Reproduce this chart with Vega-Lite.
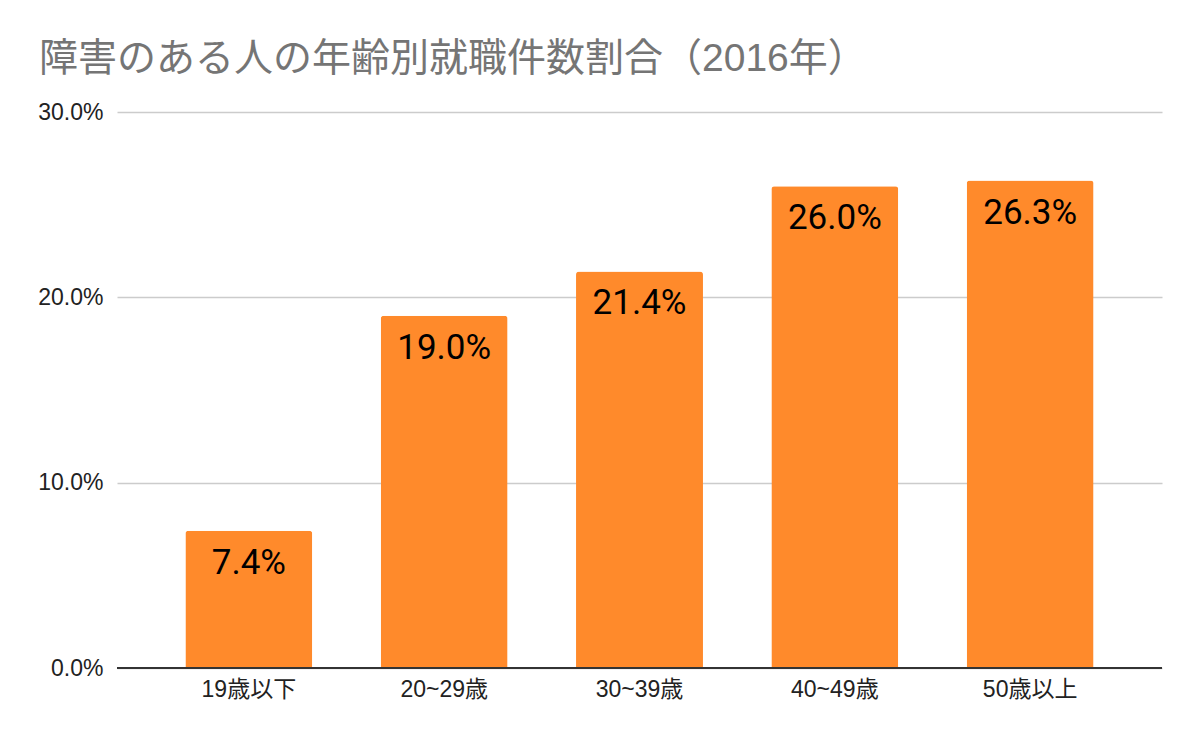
{
  "$schema": "https://vega.github.io/schema/vega-lite/v6.json",
  "width": 1045,
  "height": 556,
  "autosize": {"type": "none"},
  "padding": {"left": 117, "top": 112, "right": 38, "bottom": 74},
  "background": "white",
  "title": {
    "text": "障害のある人の年齢別就職件数割合（2016年）",
    "anchor": "start",
    "frame": "group",
    "font": "Liberation Sans, Noto Sans CJK JP",
    "fontSize": 39,
    "fontWeight": "normal",
    "color": "#757575",
    "baseline": "alphabetic",
    "offset": -9,
    "dx": -78
  },
  "config": {
    "view": {"stroke": null},
    "font": "Liberation Sans, Noto Sans CJK JP"
  },
  "data": {
    "values": [
      {"age": "19歳以下", "share": 0.074, "label": "7.4%"},
      {"age": "20~29歳", "share": 0.190, "label": "19.0%"},
      {"age": "30~39歳", "share": 0.214, "label": "21.4%"},
      {"age": "40~49歳", "share": 0.260, "label": "26.0%"},
      {"age": "50歳以上", "share": 0.263, "label": "26.3%"}
    ]
  },
  "encoding": {
    "x": {
      "field": "age",
      "type": "nominal",
      "sort": null,
      "scale": {"paddingInner": 0.35, "paddingOuter": 0.35},
      "axis": {
        "title": null,
        "labelAngle": 0,
        "labelFontSize": 23,
        "labelColor": "#222222",
        "labelPadding": 10,
        "ticks": false,
        "domain": false,
        "grid": false
      }
    },
    "y": {
      "field": "share",
      "type": "quantitative",
      "scale": {"domain": [0, 0.3], "nice": false},
      "axis": {
        "title": null,
        "values": [0, 0.1, 0.2, 0.3],
        "format": ".1%",
        "labelFontSize": 23,
        "labelColor": "#222222",
        "labelPadding": 14,
        "ticks": false,
        "domain": false,
        "grid": true,
        "gridColor": "#cccccc",
        "gridWidth": 1.5
      }
    }
  },
  "layer": [
    {
      "mark": {"type": "bar", "color": "#FF8A2B", "cornerRadiusTopLeft": 3, "cornerRadiusTopRight": 3}
    },
    {
      "mark": {"type": "text", "baseline": "alphabetic", "align": "center", "dy": 43, "fontSize": 35, "font": "Roboto", "color": "#000000"},
      "encoding": {"text": {"field": "label"}}
    },
    {
      "mark": {"type": "rule", "color": "#333333", "strokeWidth": 2},
      "encoding": {"y": {"datum": 0}, "x": null}
    }
  ]
}
